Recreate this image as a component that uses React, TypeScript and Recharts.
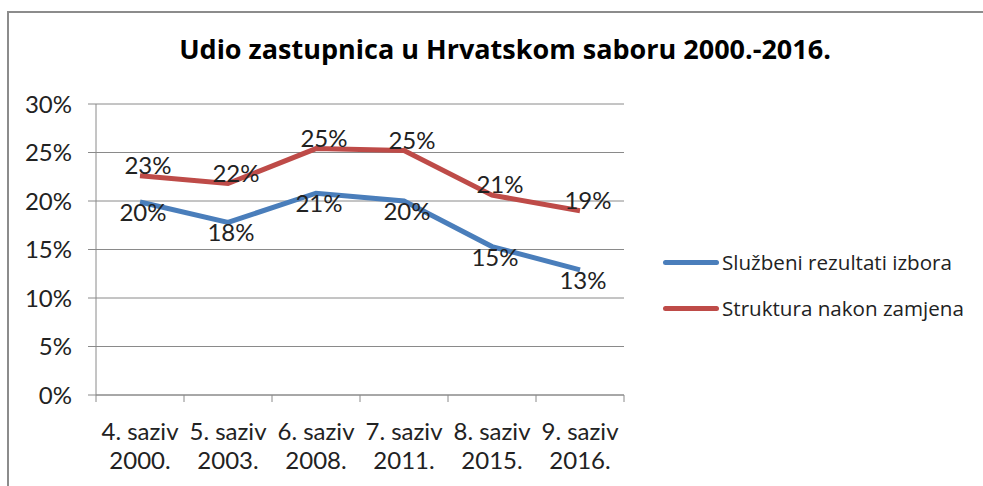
import React from 'react'
import { LineChart, Line, XAxis, YAxis, CartesianGrid, LabelList } from 'recharts'

const categories = ['4. saziv|2000.', '5. saziv|2003.', '6. saziv|2008.', '7. saziv|2011.', '8. saziv|2015.', '9. saziv|2016.']
const sluzbeni = [19.9, 17.8, 20.8, 20.0, 15.3, 12.9]
const struktura = [22.6, 21.8, 25.4, 25.2, 20.6, 19.0]
const yTicks = [0, 5, 10, 15, 20, 25, 30]

const BLUE = '#4a7ebb'
const RED = '#be4b48'
const GRID = '#8a8a8a'
const FONT = 'Lato, "Liberation Sans", sans-serif'
const FONT_WIDE = '"Open Sans", Lato, sans-serif'

const data = categories.map((c, i) => ({
  name: c,
  sluzbeni: sluzbeni[i],
  struktura: struktura[i],
}))

// excel style: tick marks sit between categories, label has two lines
function CategoryTick(props: any) {
  const { x, y, payload, index } = props
  const half = 44
  const [top, bottom] = String(payload.value).split('|')
  return (
    <g>
      <line x1={x - half} y1={y - 8} x2={x - half} y2={y - 1} stroke={GRID} />
      {index === categories.length - 1 && (
        <line x1={x + half} y1={y - 8} x2={x + half} y2={y - 1} stroke={GRID} />
      )}
      <text x={x} y={y + 37} textAnchor="middle" fontSize={24} fill="#222" fontFamily={FONT}>
        {top}
      </text>
      <text x={x} y={y + 66} textAnchor="middle" fontSize={24} fill="#222" fontFamily={FONT}>
        {bottom}
      </text>
    </g>
  )
}

function RedLabel(props: any) {
  const { x, y, value } = props
  return (
    <text x={x + 8} y={y - 2} textAnchor="middle" fontSize={24} fill="#222" fontFamily={FONT}>
      {Math.round(value)}%
    </text>
  )
}

function BlueLabel(props: any) {
  const { x, y, value } = props
  return (
    <text x={x + 3} y={y + 19} textAnchor="middle" fontSize={24} fill="#222" fontFamily={FONT}>
      {Math.round(value)}%
    </text>
  )
}

const legendItems = [
  { label: 'Službeni rezultati izbora', color: BLUE },
  { label: 'Struktura nakon zamjena', color: RED },
]

export default function App() {
  return (
    <div style={{ position: 'absolute', left: 0, top: 0, width: 983, height: 486, background: '#fff', overflow: 'hidden' }}>
      <div
        style={{
          position: 'absolute',
          left: 7,
          top: 11,
          width: 990,
          height: 500,
          borderTop: '2px solid #8c8c8c',
          borderLeft: '2px solid #8c8c8c',
        }}
      />
      <div
        style={{
          position: 'absolute',
          left: 0,
          top: 30,
          width: 1010,
          textAlign: 'center',
          fontFamily: FONT_WIDE,
          fontWeight: 'bold',
          fontSize: 27,
          color: '#000',
        }}
      >
        Udio zastupnica u Hrvatskom saboru 2000.-2016.
      </div>
      <div style={{ position: 'absolute', left: 0, top: 0 }}>
        <LineChart width={983} height={486} data={data} margin={{ top: 104, right: 359, bottom: 11, left: 0 }}>
          <CartesianGrid vertical={false} stroke={GRID} strokeWidth={1} />
          <XAxis
            dataKey="name"
            padding={{ left: 44, right: 44 }}
            stroke={GRID}
            tickLine={false}
            tick={<CategoryTick />}
            interval={0}
            height={80}
          />
          <YAxis
            domain={[0, 30]}
            ticks={yTicks}
            width={96}
            stroke={GRID}
            tickSize={8}
            tickMargin={16}
            tickFormatter={(v: number) => `${v}%`}
            tick={{ fontSize: 24, fill: '#222', fontFamily: FONT }}
          />
          <Line
            dataKey="sluzbeni"
            name="Službeni rezultati izbora"
            stroke={BLUE}
            strokeWidth={5}
            dot={false}
            isAnimationActive={false}
          >
            <LabelList dataKey="sluzbeni" content={<BlueLabel />} />
          </Line>
          <Line
            dataKey="struktura"
            name="Struktura nakon zamjena"
            stroke={RED}
            strokeWidth={5}
            dot={false}
            isAnimationActive={false}
          >
            <LabelList dataKey="struktura" content={<RedLabel />} />
          </Line>
        </LineChart>
      </div>
      <div style={{ position: 'absolute', left: 663, top: 239, fontFamily: FONT_WIDE, fontSize: 20.6, color: '#222' }}>
        {legendItems.map((it) => (
          <div key={it.label} style={{ display: 'flex', alignItems: 'center', height: 46 }}>
            <span style={{ display: 'inline-block', width: 56, height: 5, borderRadius: 3, background: it.color, marginRight: 3 }} />
            <span>{it.label}</span>
          </div>
        ))}
      </div>
    </div>
  )
}
